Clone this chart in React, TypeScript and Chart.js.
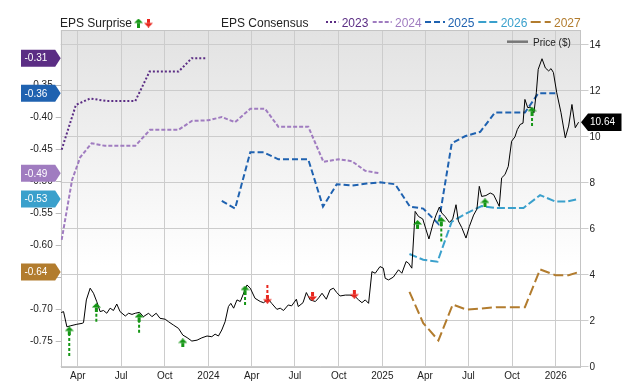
import React, { useEffect, useRef } from "react";
import { Chart, registerables } from "chart.js";

Chart.register(...registerables);

// ---------------- data ----------------
const xStart = "2023-02-24";
const xEnd = "2026-02-22";
const quarterTicks = ["2023-04-01","2023-07-01","2023-10-01","2024-01-01","2024-04-01","2024-07-01","2024-10-01","2025-01-01","2025-04-01","2025-07-01","2025-10-01","2026-01-01"];
const quarterLabels = ["Apr","Jul","Oct","2024","Apr","Jul","Oct","2025","Apr","Jul","Oct","2026"];

const priceTicks = [0, 2, 4, 6, 8, 10, 12, 14];
const priceMin = -0.03;
const priceMax = 14.65;
const epsTicks = [-0.75, -0.7, -0.65, -0.6, -0.55, -0.5, -0.45, -0.4, -0.35];
const epsMin = -0.7903;
const epsMax = -0.263;

const priceDates = [
"2023-02-25","2023-03-02","2023-03-09","2023-03-16","2023-03-30","2023-04-10","2023-04-13","2023-04-19","2023-04-27","2023-05-04",
"2023-05-11","2023-05-18","2023-05-25","2023-06-01","2023-06-08","2023-06-15","2023-06-22","2023-06-29","2023-07-10","2023-07-17",
"2023-07-24","2023-07-31","2023-08-09","2023-08-17","2023-08-28","2023-09-04","2023-09-13","2023-09-21","2023-10-02","2023-10-09",
"2023-10-19","2023-10-30","2023-11-08","2023-11-17","2023-11-27","2023-12-08","2023-12-18","2023-12-29","2024-01-08","2024-01-15",
"2024-01-22","2024-01-29","2024-02-05","2024-02-12","2024-02-17","2024-02-23","2024-03-01","2024-03-08","2024-03-22","2024-03-29",
"2024-04-08","2024-04-19","2024-04-26","2024-05-06","2024-05-13","2024-05-24","2024-05-31","2024-06-07","2024-06-17","2024-06-24",
"2024-07-04","2024-07-08","2024-07-18","2024-07-25","2024-08-02","2024-08-13","2024-08-20","2024-08-27","2024-09-05","2024-09-13",
"2024-09-20","2024-09-27","2024-10-04","2024-10-15","2024-10-25","2024-11-05","2024-11-12","2024-11-19","2024-11-26","2024-12-03",
"2024-12-10","2024-12-17","2024-12-27","2025-01-03","2025-01-07","2025-01-14","2025-01-24","2025-02-04","2025-02-11","2025-02-20",
"2025-02-25","2025-03-04","2025-03-11","2025-03-18","2025-03-27","2025-04-09","2025-04-18","2025-04-24","2025-05-01","2025-05-06",
"2025-05-13","2025-05-22","2025-05-29","2025-06-05","2025-06-10","2025-06-17","2025-06-26","2025-07-03","2025-07-12","2025-07-19",
"2025-07-24","2025-07-29","2025-08-07","2025-08-16","2025-08-23","2025-09-04","2025-09-09","2025-09-16","2025-09-23","2025-09-30",
"2025-10-07","2025-10-12","2025-10-18","2025-10-24","2025-10-28","2025-11-03","2025-11-09","2025-11-16","2025-11-21","2025-11-25",
"2025-12-03","2025-12-10","2025-12-17","2025-12-22","2025-12-27","2026-01-03","2026-01-12","2026-01-21","2026-01-28","2026-02-04",
"2026-02-11","2026-02-18"
];
const prices = [
2.36,2.40,1.74,1.78,1.85,1.89,1.92,2.91,3.42,3.20,
2.83,2.40,2.45,2.33,2.55,2.45,2.73,2.40,2.21,2.33,
2.28,2.33,2.37,2.18,2.33,2.18,2.33,2.11,2.07,1.96,
1.82,1.67,1.38,1.27,1.12,1.16,1.26,1.34,1.31,1.42,
1.34,1.60,1.96,2.62,2.76,2.55,2.91,2.84,3.56,3.42,
2.98,2.84,2.79,2.94,2.76,2.50,2.55,2.45,2.69,2.65,
2.94,2.62,2.79,3.23,2.91,2.84,3.00,3.20,2.94,3.35,
3.42,3.23,3.08,3.12,3.12,3.05,2.91,2.79,2.91,2.76,
4.14,4.07,4.36,4.29,3.85,3.78,3.90,4.22,4.07,4.58,
4.51,4.29,6.76,6.54,6.43,5.56,6.25,6.60,6.95,6.69,
6.54,6.28,6.43,7.05,6.34,6.06,5.60,6.10,6.60,6.86,
7.85,7.41,7.45,7.56,7.49,6.98,8.22,8.36,8.72,9.81,
10.00,10.32,10.54,10.60,11.63,11.27,11.30,11.05,11.92,12.94,
13.40,13.00,12.87,12.97,12.80,11.92,11.05,9.96,10.47,11.41,
10.40,10.64
];

const est2023Dates = ["2023-02-26","2023-03-28","2023-04-27","2023-06-01","2023-07-31","2023-08-30","2023-10-30","2023-11-27","2023-12-29"];
const est2023 = [-0.450,-0.380,-0.370,-0.374,-0.374,-0.328,-0.328,-0.307,-0.307];

const est2024Dates = ["2023-02-26","2023-03-20","2023-04-06","2023-04-30","2023-05-28","2023-07-31","2023-08-31","2023-10-30","2023-11-27","2024-01-01","2024-01-29","2024-02-26","2024-03-29","2024-04-29","2024-05-27","2024-07-29","2024-08-30","2024-10-01","2024-10-29","2024-11-26","2024-12-27"];
const est2024 = [-0.591,-0.497,-0.462,-0.440,-0.444,-0.444,-0.419,-0.419,-0.405,-0.404,-0.399,-0.407,-0.386,-0.386,-0.414,-0.414,-0.469,-0.465,-0.468,-0.483,-0.487];

const est2025Dates = ["2024-01-29","2024-02-26","2024-03-29","2024-04-26","2024-05-27","2024-07-29","2024-08-29","2024-09-27","2024-10-29","2024-11-29","2024-12-27","2025-01-28","2025-02-28","2025-03-28","2025-04-29","2025-05-27","2025-06-24","2025-07-26","2025-08-26","2025-10-28","2025-11-25","2025-12-31"];
const est2025 = [-0.530,-0.542,-0.454,-0.454,-0.465,-0.465,-0.539,-0.504,-0.506,-0.503,-0.501,-0.504,-0.539,-0.542,-0.566,-0.440,-0.429,-0.422,-0.392,-0.392,-0.362,-0.362];

const est2026Dates = ["2025-02-27","2025-03-28","2025-04-27","2025-05-27","2025-06-28","2025-07-29","2025-08-26","2025-10-25","2025-11-29","2025-12-31","2026-01-24","2026-02-18"];
const est2026 = [-0.613,-0.622,-0.625,-0.5625,-0.549,-0.538,-0.541,-0.541,-0.521,-0.531,-0.531,-0.527];

const est2027Dates = ["2025-02-27","2025-03-28","2025-04-29","2025-05-29","2025-06-28","2025-08-30","2025-10-28","2025-11-29","2025-12-31","2026-01-28","2026-02-19"];
const est2027 = [-0.672,-0.721,-0.748,-0.692,-0.700,-0.696,-0.696,-0.637,-0.646,-0.646,-0.641];

const surpriseDates = ["2023-03-14","2023-05-10","2023-08-08","2023-11-08","2024-03-18","2024-05-04","2024-08-07","2024-11-03","2025-03-16","2025-05-05","2025-08-05","2025-11-12"];
const surpriseDir = ["up","up","up","up","up","down","down","down","up","up","up","up"];
const surpriseFrom = [0.47,1.96,1.48,1.04,2.69,3.56,3.24,3.27,6.04,5.45,7.00,10.47];
const surpriseHead = [1.56,2.58,2.15,1.04,3.34,2.94,3.06,3.16,6.19,6.32,7.13,11.12];

const seriesNames = ["2023","2024","2025","2026","2027"];
const seriesDates = [est2023Dates, est2024Dates, est2025Dates, est2026Dates, est2027Dates];
const seriesValues = [est2023, est2024, est2025, est2026, est2027];

// ---------------- styles ----------------
const FONT = "'Liberation Sans', Arial, Helvetica, sans-serif";
const seriesColors = ["#5b2d84", "#a07cc0", "#1f62b0", "#3aa0cc", "#b27c2e"];
const seriesDash = [[2, 2], [4, 2], [6, 3], [8, 3], [10, 4]];
const UP = "#159615";
const DOWN = "#e8261e";

const DAY0 = Date.UTC(2023, 0, 1);
const toDay = (s: string) => {
  const [y, m, d] = s.split("-").map(Number);
  return (Date.UTC(y, m - 1, d) - DAY0) / 86400000;
};
const quarterDays = quarterTicks.map(toDay);

function makeArrowGlyph(color: string, up: boolean) {
  const c = document.createElement("canvas");
  c.width = 9;
  c.height = 9;
  const g = c.getContext("2d")!;
  g.fillStyle = color;
  g.beginPath();
  if (up) {
    g.moveTo(4.5, 0); g.lineTo(9, 4.5); g.lineTo(0, 4.5);
  } else {
    g.moveTo(4.5, 9); g.lineTo(9, 4.5); g.lineTo(0, 4.5);
  }
  g.closePath();
  g.fill();
  if (up) g.fillRect(3, 4.5, 3, 4.5);
  else g.fillRect(3, 0, 3, 4.5);
  return c;
}

export default function App() {
  const ref = useRef<HTMLCanvasElement>(null);

  useEffect(() => {
    document.body.style.margin = "0";
    const upGlyph = makeArrowGlyph(UP, true);
    const downGlyph = makeArrowGlyph(DOWN, false);

    const stems = (dir: string) =>
      surpriseDates.flatMap((d, i) =>
        surpriseDir[i] === dir
          ? [
              { x: toDay(d), y: surpriseFrom[i] },
              { x: toDay(d), y: surpriseHead[i] },
              { x: toDay(d), y: null },
            ]
          : []
      );
    const heads = (dir: string) =>
      surpriseDates.flatMap((d, i) => (surpriseDir[i] === dir ? [{ x: toDay(d), y: surpriseHead[i] }] : []));

    const datasets: any[] = [
      {
        label: "up heads", data: heads("up"), yAxisID: "yPrice", showLine: false,
        pointStyle: upGlyph, pointRadius: 4, pointHoverRadius: 4,
      },
      {
        label: "down heads", data: heads("down"), yAxisID: "yPrice", showLine: false,
        pointStyle: downGlyph, pointRadius: 4, pointHoverRadius: 4,
      },
      {
        label: "up stems", data: stems("up"), yAxisID: "yPrice", borderColor: UP, borderWidth: 2,
        borderDash: [3, 2], pointRadius: 0, spanGaps: false,
      },
      {
        label: "down stems", data: stems("down"), yAxisID: "yPrice", borderColor: DOWN, borderWidth: 2,
        borderDash: [3, 2], pointRadius: 0, spanGaps: false,
      },
      {
        label: "Price ($)",
        data: priceDates.map((d, i) => ({ x: toDay(d), y: prices[i] })),
        yAxisID: "yPrice", borderColor: "#000", borderWidth: 1, pointRadius: 0,
      },
      ...seriesNames.map((n, k) => ({
        label: n,
        data: seriesDates[k].map((d, i) => ({ x: toDay(d), y: seriesValues[k][i] })),
        yAxisID: "yEps", borderColor: seriesColors[k], borderWidth: 2, borderDash: seriesDash[k],
        pointRadius: 0,
      })),
    ];

    const decor = {
      id: "decor",
      beforeDraw(chart: any) {
        const { ctx, chartArea: a } = chart;
        const g = ctx.createLinearGradient(0, a.top, 0, a.bottom);
        g.addColorStop(0, "#e2e2e2");
        g.addColorStop(0.7, "#ffffff");
        g.addColorStop(1, "#ffffff");
        ctx.save();
        ctx.fillStyle = g;
        ctx.fillRect(a.left, a.top, a.right - a.left, a.bottom - a.top);
        ctx.restore();
      },
      beforeDatasetsDraw(chart: any) {
        const { ctx, chartArea: a } = chart;
        ctx.save();
        ctx.strokeStyle = "#c4c4c4";
        ctx.lineWidth = 1;
        ctx.strokeRect(Math.round(a.left) + 0.5, Math.round(a.top) + 0.5, Math.round(a.right - a.left) - 1, Math.round(a.bottom - a.top) - 1);
        ctx.restore();
      },
      afterDraw(chart: any) {
        const { ctx, chartArea: a, scales } = chart;
        ctx.save();
        // left EPS badges
        seriesNames.forEach((n, k) => {
          const vals = seriesValues[k];
          const v = vals[vals.length - 1];
          const y = scales.yEps.getPixelForValue(v);
          const h = 17;
          const x0 = 21;
          const tip = a.left;
          const x1 = tip - 5.5;
          ctx.beginPath();
          ctx.moveTo(x0, y - h / 2);
          ctx.lineTo(x1, y - h / 2);
          ctx.lineTo(tip, y);
          ctx.lineTo(x1, y + h / 2);
          ctx.lineTo(x0, y + h / 2);
          ctx.closePath();
          ctx.fillStyle = seriesColors[k];
          ctx.fill();
          ctx.fillStyle = "#fff";
          ctx.font = `10px ${FONT}`;
          ctx.textAlign = "left";
          ctx.textBaseline = "middle";
          ctx.fillText(v.toFixed(2), 24.5, y + 0.5);
        });
        // right price badge
        {
          const v = prices[prices.length - 1];
          const y = scales.yPrice.getPixelForValue(v);
          const h = 17.5;
          const tip = a.right + 0.5;
          const x1 = tip + 7;
          const x2 = 621.5;
          ctx.beginPath();
          ctx.moveTo(tip, y);
          ctx.lineTo(x1, y - h / 2);
          ctx.lineTo(x2, y - h / 2);
          ctx.lineTo(x2, y + h / 2);
          ctx.lineTo(x1, y + h / 2);
          ctx.closePath();
          ctx.fillStyle = "#000";
          ctx.fill();
          ctx.fillStyle = "#fff";
          ctx.font = `10px ${FONT}`;
          ctx.textAlign = "left";
          ctx.textBaseline = "middle";
          ctx.fillText(v.toFixed(2), 590, y + 0.5);
        }
        // top legend
        ctx.font = `12px ${FONT}`;
        ctx.textBaseline = "alphabetic";
        ctx.textAlign = "left";
        ctx.fillStyle = "#222";
        ctx.fillText("EPS Surprise", 60, 27);
        ctx.drawImage(upGlyph, 134, 18.5);
        ctx.drawImage(downGlyph, 144, 18.5);
        ctx.fillStyle = "#222";
        ctx.fillText("EPS Consensus", 221, 27);
        const sx = [326, 372.7, 425, 478.3, 530.7];
        const sw = [12.3, 19, 20, 19, 20];
        const tx = [341.7, 395, 447.7, 500.7, 554];
        seriesNames.forEach((n, k) => {
          ctx.beginPath();
          ctx.setLineDash(seriesDash[k]);
          ctx.strokeStyle = seriesColors[k];
          ctx.lineWidth = 2;
          ctx.moveTo(sx[k], 22);
          ctx.lineTo(sx[k] + sw[k], 22);
          ctx.stroke();
          ctx.setLineDash([]);
          ctx.fillStyle = seriesColors[k];
          ctx.fillText(n, tx[k], 27);
        });
        // price legend
        ctx.beginPath();
        ctx.strokeStyle = "#777";
        ctx.lineWidth = 2.5;
        ctx.moveTo(507, 41.7);
        ctx.lineTo(528, 41.7);
        ctx.stroke();
        ctx.font = `10px ${FONT}`;
        ctx.fillStyle = "#222";
        ctx.fillText("Price ($)", 533, 45.5);
        ctx.restore();
      },
    };

    const tickFont = { family: FONT, size: 10 };
    const chart = new Chart(ref.current!, {
      type: "line",
      data: { datasets },
      plugins: [decor],
      options: {
        responsive: false,
        animation: false,
        devicePixelRatio: 1,
        layout: { padding: { top: 30, left: 0, right: 0, bottom: 0 } },
        plugins: { legend: { display: false }, tooltip: { enabled: false } },
        scales: {
          x: {
            type: "linear",
            min: toDay(xStart),
            max: toDay(xEnd),
            afterBuildTicks: (s: any) => { s.ticks = quarterDays.map((v) => ({ value: v })); },
            afterFit: (s: any) => { s.height = 14.5; },
            ticks: {
              autoSkip: false, maxRotation: 0, padding: 3, color: "#222", font: tickFont,
              callback: (v: any) => quarterLabels[quarterDays.indexOf(Number(v))],
            },
            grid: { color: "#cccccc", drawTicks: false },
            border: { display: false },
          },
          yEps: {
            type: "linear",
            position: "left",
            min: epsMin,
            max: epsMax,
            afterBuildTicks: (s: any) => { s.ticks = epsTicks.map((v) => ({ value: v })); },
            afterFit: (s: any) => { s.width = 60.7; },
            ticks: { padding: 3, color: "#222", font: tickFont, callback: (v: any) => Number(v).toFixed(2) },
            grid: { drawOnChartArea: false, tickLength: 5, color: "#bbbbbb" },
            border: { display: false },
          },
          yPrice: {
            type: "linear",
            position: "right",
            min: priceMin,
            max: priceMax,
            afterBuildTicks: (s: any) => { s.ticks = priceTicks.map((v) => ({ value: v })); },
            afterFit: (s: any) => { s.width = 59.5; },
            ticks: { padding: 1, color: "#222", font: tickFont, callback: (v: any) => String(v) },
            grid: { color: "#cccccc", tickLength: 8 },
            border: { display: false },
          },
        },
      } as any,
    });
    return () => chart.destroy();
  }, []);

  return (
    <div style={{ width: 640, height: 382, position: "relative" }}>
      <canvas ref={ref} width={640} height={382} style={{ display: "block", width: 640, height: 382 }} />
    </div>
  );
}
